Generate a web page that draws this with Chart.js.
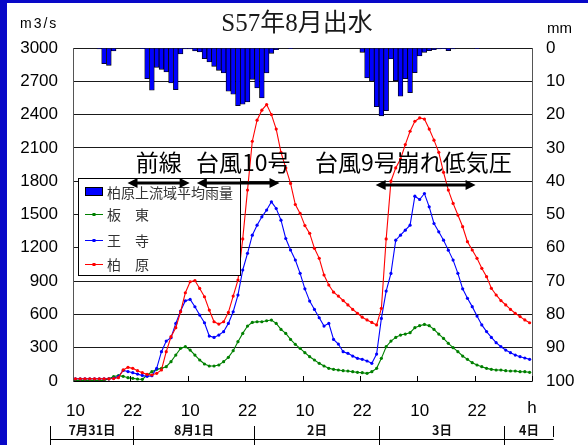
<!DOCTYPE html>
<html>
<head>
<meta charset="utf-8">
<script src="https://cdn.jsdelivr.net/npm/chart.js@4.4.1/dist/chart.umd.min.js"></script>
<style>
  html, body { margin: 0; padding: 0; background: #fff; }
  #wrap { position: relative; width: 588px; height: 445px; overflow: hidden; }
  canvas { display: block; }
</style>
</head>
<body>
<div id="wrap"><canvas id="flood" width="588" height="445"></canvas></div>
<script>
// Hourly categories: 31 Jul 10:00 through 4 Aug 09:00 (1982)
const hours = [];
for (let i = 0; i < 96; i++) {
  const t = 10 + i;
  const day = 31 + Math.floor(t / 24);
  const label = day <= 31 ? '7/' + day : '8/' + (day - 31);
  hours.push(label + ' ' + (t % 24) + '時');
}

// Basin-average hourly rainfall above Kashiwara (mm)
const rainfall = [
  null, null, null, null, null, 0.3, 4.7, 5.2, 0.9, null, null, null,
  null, null, 0.2, 9.2, 12.7, 5.8, 6.4, 7.2, 10.5, 12.5, 1.8, 0.3,
  0.3, 0.9, 1.2, 3.2, 4.2, 5.5, 6.7, 7.5, 13.0, 13.9, 17.3, 16.9,
  16.2, 9.4, 12.0, 15.0, 7.5, 1.6, 0.5, null, null, 0.2, null, null,
  null, null, null, null, null, null, null, null, null, null, null, null,
  1.3, 9.0, 10.0, 17.6, 20.4, 18.8, 3.3, 9.8, 14.5, 9.2, 13.4, 7.4,
  2.4, 1.3, 0.8, 0.5, 0.3, 0.2, 0.8, 0.3, null, null, null, null,
  0.2, null, null, null, null, null, null, null, null, null, null, null
];

// Discharge (m3/s) at Bando
const bando = [
  6, 6, 6, 6, 6, 6, 6, 20, 40, 48, 42, 30,
  24, 18, 15, 54, 84, 105, 114, 129, 174, 234, 294, 309,
  279, 234, 189, 153, 135, 135, 144, 174, 213, 273, 354, 429,
  495, 528, 534, 534, 543, 549, 519, 465, 429, 375, 330, 294,
  255, 219, 189, 159, 135, 114, 105, 99, 93, 90, 84, 78,
  75, 69, 84, 114, 204, 309, 360, 393, 414, 423, 435, 480,
  498, 510, 498, 465, 423, 384, 339, 300, 264, 225, 195, 165,
  144, 129, 114, 105, 99, 99, 93, 90, 90, 84, 84, 78
];

// Discharge (m3/s) at Oji
const oji = [
  20, 20, 20, 20, 20, 20, 20, 20, 25, 40, 95, 85,
  75, 62, 50, 42, 48, 114, 264, 360, 390, 519, 630, 723,
  735, 669, 594, 525, 405, 393, 414, 444, 519, 624, 774, 1000,
  1150, 1314, 1404, 1479, 1540, 1614, 1554, 1449, 1284, 1180, 1090, 970,
  830, 720, 645, 570, 495, 519, 375, 333, 264, 249, 225, 204,
  195, 180, 159, 243, 564, 810, 969, 1269, 1314, 1359, 1404, 1665,
  1635, 1689, 1569, 1419, 1344, 1269, 1179, 1089, 970, 830, 745, 670,
  585, 505, 445, 393, 345, 309, 279, 255, 234, 219, 207, 195
];

// Discharge (m3/s) at Kashiwara
const kashiwara = [
  20, 20, 20, 20, 20, 20, 20, 20, 22, 30, 100, 123,
  114, 93, 75, 60, 54, 69, 99, 264, 399, 480, 624, 795,
  894, 905, 834, 759, 639, 534, 513, 534, 618, 765, 909, 1280,
  1720, 2160, 2350, 2440, 2490, 2400, 2270, 2060, 1920, 1780, 1590, 1510,
  1400, 1330, 1195, 1105, 955, 865, 800, 765, 725, 685, 645, 610,
  575, 550, 528, 505, 655, 1280, 1800, 1920, 2000, 2130, 2250, 2340,
  2370, 2360, 2270, 2170, 2060, 1880, 1720, 1600, 1495, 1390, 1255, 1180,
  1105, 1015, 940, 835, 775, 725, 685, 645, 610, 580, 550, 525
];

// Hour labels shown every 12 hours, and the unit at the end of the axis
const hourTickLabels = ['10', '22', '10', '22', '10', '22', '10', '22'];
const hourUnit = 'h';
// Calendar row beneath the hour labels
const dateLabels = ['7月31日', '8月1日', '2日', '3日', '4日'];
// Weather causes shown above the hydrographs
const eventLabels = ['前線', '台風10号', '台風9号崩れ低気圧'];

const FONT_SANS = '"Liberation Sans", Arial, sans-serif';
const FONT_JP = '"Noto Sans CJK JP", "Noto Sans", sans-serif';
const LABEL_Y = 408;

const decorations = {
  id: 'decorations',
  beforeDraw(chart) {
    const ctx = chart.ctx;
    ctx.save();
    ctx.fillStyle = '#ffffff';
    ctx.fillRect(0, 0, chart.width, chart.height);
    ctx.restore();
  },
  afterDraw(chart) {
    const ctx = chart.ctx;
    const xs = chart.scales.x;
    const ys = chart.scales.y;
    const area = chart.chartArea;
    ctx.save();

    // page frame
    ctx.fillStyle = '#0808c8';
    ctx.fillRect(0, 0, 7, chart.height);
    ctx.fillRect(0, 0, chart.width, 3);

    // title
    ctx.fillStyle = '#1a1a1a';
    ctx.textAlign = 'center';
    ctx.textBaseline = 'alphabetic';
    ctx.font = '25px "Liberation Serif", "Noto Sans CJK JP", serif';
    ctx.fillText('S57年8月出水', 297, 31);

    // axis units
    ctx.fillStyle = '#000';
    ctx.textAlign = 'left';
    ctx.font = '14px ' + FONT_SANS;
    ctx.letterSpacing = '2px';
    ctx.fillText('m3/s', 20, 28);
    ctx.letterSpacing = '0px';
    ctx.font = '15px ' + FONT_SANS;
    ctx.fillText('mm', 547, 33);

    // inward tick marks every 12 hours on the time axis
    ctx.strokeStyle = '#000';
    ctx.lineWidth = 1;
    for (let k = 1; k <= 8; k++) {
      const px = Math.round(xs.getPixelForValue(k * 12 - 0.5)) + 0.5;
      ctx.beginPath();
      ctx.moveTo(px, area.bottom);
      ctx.lineTo(px, area.bottom - 5);
      ctx.stroke();
    }

    // hour unit at the right end of the time axis
    ctx.textAlign = 'center';
    ctx.textBaseline = 'middle';
    ctx.font = '17px ' + FONT_SANS;
    ctx.fillText(hourUnit, xs.getPixelForValue(95.5), LABEL_Y);

    // calendar row
    const bounds = [-5.4, 12.0, 37.3, 63.5, 89.6, 99.9];
    ctx.strokeStyle = '#000';
    ctx.beginPath();
    const bx = bounds.map(b => Math.round(xs.getPixelForValue(b)) + 0.5);
    ctx.moveTo(bx[0], 439.5);
    ctx.lineTo(bx[bx.length - 1], 439.5);
    bx.forEach((px, i) => {
      ctx.moveTo(px, 426);
      ctx.lineTo(px, i === bx.length - 1 ? 437 : 445);
    });
    ctx.stroke();
    ctx.font = 'bold 12.5px ' + FONT_JP;
    ctx.fillStyle = '#111';
    dateLabels.forEach((t, i) => {
      ctx.fillText(t, (bx[i] + bx[i + 1]) / 2, 430);
    });

    // legend
    const lx = 78.5, ly = 178.5, lw = 162, lh = 97;
    ctx.fillStyle = '#fff';
    ctx.fillRect(lx, ly, lw, lh);
    ctx.strokeStyle = '#000';
    ctx.lineWidth = 1;
    ctx.strokeRect(lx, ly, lw, lh);
    const items = [chart.data.datasets[3], chart.data.datasets[2], chart.data.datasets[1], chart.data.datasets[0]];
    const rowsY = [192, 214, 240, 264];
    ctx.font = '14px ' + FONT_JP;
    ctx.textAlign = 'left';
    ctx.textBaseline = 'middle';
    items.forEach((ds, i) => {
      const cy = rowsY[i];
      if (ds.type === 'bar') {
        ctx.fillStyle = ds.backgroundColor;
        ctx.fillRect(85, cy - 4, 18, 8);
        ctx.strokeStyle = '#000';
        ctx.strokeRect(85.5, cy - 4.5, 17, 8);
      } else {
        ctx.strokeStyle = ds.borderColor;
        ctx.lineWidth = 1;
        ctx.beginPath();
        ctx.moveTo(85, cy + 0.5);
        ctx.lineTo(103, cy + 0.5);
        ctx.stroke();
        ctx.fillStyle = ds.borderColor;
        ctx.fillRect(92.5, cy - 1, 3, 3);
      }
      ctx.fillStyle = '#333';
      ctx.fillText(ds.label, 107, cy + 1);
    });

    // weather causes with the periods they cover
    ctx.fillStyle = '#000';
    ctx.textAlign = 'left';
    ctx.textBaseline = 'middle';
    ctx.font = '23px ' + FONT_JP;
    const textY = ys.getPixelForValue(1971);
    ctx.fillText(eventLabels[0], xs.getPixelForValue(12.6), textY);
    ctx.fillText(eventLabels[1], xs.getPixelForValue(25.2), textY);
    ctx.fillText(eventLabels[2], xs.getPixelForValue(50.1), textY);

    const spans = [[10.9, 23.9, 1782], [25.4, 42.7, 1782], [62.8, 83.7, 1764]];
    spans.forEach(([a, b, v]) => {
      const x1 = xs.getPixelForValue(a), x2 = xs.getPixelForValue(b);
      const y = Math.round(ys.getPixelForValue(v));
      ctx.strokeStyle = '#000';
      ctx.lineWidth = 3;
      ctx.beginPath();
      ctx.moveTo(x1 + 6, y);
      ctx.lineTo(x2 - 6, y);
      ctx.stroke();
      ctx.fillStyle = '#000';
      ctx.beginPath();
      ctx.moveTo(x1, y); ctx.lineTo(x1 + 10, y - 5); ctx.lineTo(x1 + 10, y + 5); ctx.closePath();
      ctx.moveTo(x2, y); ctx.lineTo(x2 - 10, y - 5); ctx.lineTo(x2 - 10, y + 5); ctx.closePath();
      ctx.fill();
    });

    ctx.restore();
  }
};

const lineStyle = (color) => ({
  type: 'line',
  yAxisID: 'y',
  borderColor: color,
  backgroundColor: color,
  borderWidth: 1.1,
  pointRadius: 1.6,
  pointBorderWidth: 0,
  pointBackgroundColor: color,
  tension: 0,
  fill: false
});

new Chart(document.getElementById('flood'), {
  data: {
    labels: hours,
    datasets: [
      Object.assign({ label: '柏　原', data: kashiwara, order: 0 }, lineStyle('#ff0000')),
      Object.assign({ label: '王　寺', data: oji, order: 1 }, lineStyle('#0000ff')),
      Object.assign({ label: '板　東', data: bando, order: 2 }, lineStyle('#008000')),
      {
        type: 'bar',
        label: '柏原上流域平均雨量',
        data: rainfall,
        yAxisID: 'y2',
        order: 3,
        backgroundColor: '#0000ff',
        borderColor: '#000',
        borderWidth: 0.8,
        borderSkipped: 'start',
        barPercentage: 1,
        categoryPercentage: 1
      }
    ]
  },
  options: {
    responsive: false,
    animation: false,
    devicePixelRatio: 1,
    events: [],
    layout: { padding: { top: 48, left: 0, right: 0, bottom: 0 } },
    plugins: {
      legend: { display: false },
      title: { display: false },
      tooltip: { enabled: false }
    },
    scales: {
      x: {
        type: 'category',
        offset: true,
        grid: { display: false, offset: true },
        border: { display: true, color: '#000', width: 1 },
        ticks: {
          autoSkip: false,
          maxRotation: 0,
          minRotation: 0,
          padding: 12,
          color: '#000',
          font: { family: FONT_SANS, size: 17 },
          callback: (v, i) => (i % 12 === 0 ? hourTickLabels[i / 12] : '')
        },
        afterFit: (s) => { s.height = 64; }
      },
      y: {
        position: 'left',
        min: 0,
        max: 3000,
        grid: { color: '#1a1a1a', lineWidth: 1, drawTicks: false },
        border: { display: true, color: '#555', width: 1 },
        ticks: {
          stepSize: 300,
          padding: 15,
          color: '#000',
          font: { family: FONT_SANS, size: 17 },
          callback: (v) => String(v)
        },
        afterFit: (s) => { s.width = 73; }
      },
      y2: {
        position: 'right',
        reverse: true,
        min: 0,
        max: 100,
        grid: { drawOnChartArea: false, drawTicks: false },
        border: { display: true, color: '#555', width: 1 },
        ticks: {
          stepSize: 10,
          padding: 14,
          color: '#000',
          font: { family: FONT_SANS, size: 17 },
          callback: (v) => String(v)
        },
        afterFit: (s) => { s.width = 56; }
      }
    }
  },
  plugins: [decorations]
});
</script>
</body>
</html>
